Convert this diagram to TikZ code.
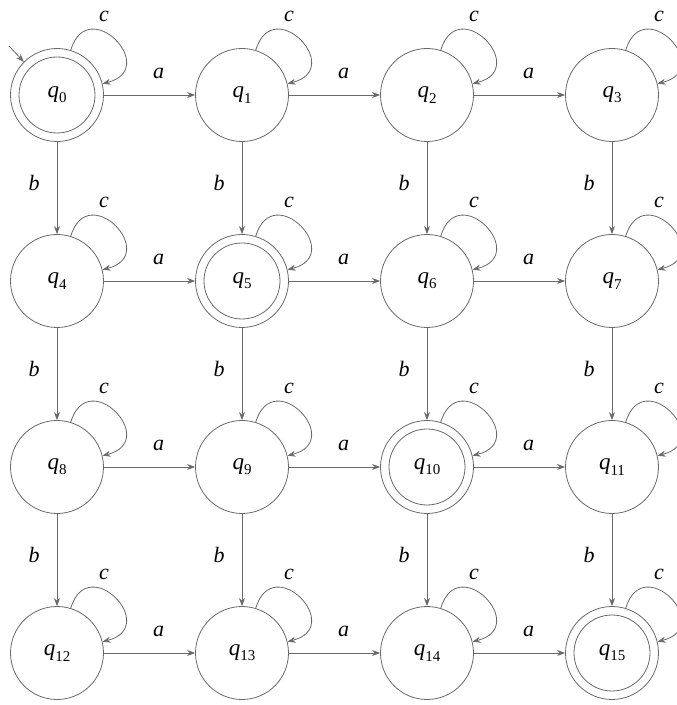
\documentclass[tikz,border=0pt]{standalone}
\usepackage{fontspec}
\setmainfont{Liberation Serif}
\usetikzlibrary{arrows.meta}
\definecolor{linegray}{RGB}{105,105,105}
\newcommand{\st}[1]{\textit{q}\raisebox{-0.5ex}{\fontsize{15}{15}\selectfont #1}}
\begin{document}
\begin{tikzpicture}[x=1pt,y=1pt,
  state/.style={circle,draw=linegray,line width=0.8pt,minimum size=93pt,inner sep=0pt,font=\fontsize{23}{25}\selectfont},
  lbl/.style={font=\fontsize{22}{24}\selectfont\itshape,inner sep=0pt},
  edge/.style={draw=linegray,line width=0.8pt,-{Stealth[length=8pt,width=6pt]}}]
\useasboundingbox (0,0) rectangle (677,705);
\foreach \r/\y in {0/610,1/424,2/238,3/52}
  \foreach \c/\x in {0/57,1/242,2/427,3/612} {
    \pgfmathtruncatemacro\n{4*\r+\c}
    \node[state] (q\n) at (\x,\y) {\st{\n}};
  }
\foreach \n in {0,5,10,15}
  \draw[linegray,line width=0.8pt] (q\n.center) circle (38);
% start arrow
\coordinate (s) at (9,659);
\draw[edge] (s) -- (q0.135);
% horizontal a edges
\foreach \r in {0,1,2,3}
  \foreach \c in {0,1,2} {
    \pgfmathtruncatemacro\n{4*\r+\c}
    \pgfmathtruncatemacro\m{4*\r+\c+1}
    \draw[edge] (q\n.east) -- (q\m.west) node[lbl,pos=0.6,above=16pt] {a};
  }
% vertical b edges
\foreach \r in {0,1,2}
  \foreach \c in {0,1,2,3} {
    \pgfmathtruncatemacro\n{4*\r+\c}
    \pgfmathtruncatemacro\m{4*\r+\c+4}
    \draw[edge] (q\n.south) -- (q\m.north) node[lbl,pos=0.45,left=17pt] {b};
  }
% loops c
\foreach \n in {0,...,15} {
  \draw[edge] (q\n.73) .. controls +(73:60) and +(14:60) .. (q\n.14);
  \node[lbl] (c\n) at ([shift={(47,79)}]q\n.center) {c};
}
\end{tikzpicture}
\end{document}
